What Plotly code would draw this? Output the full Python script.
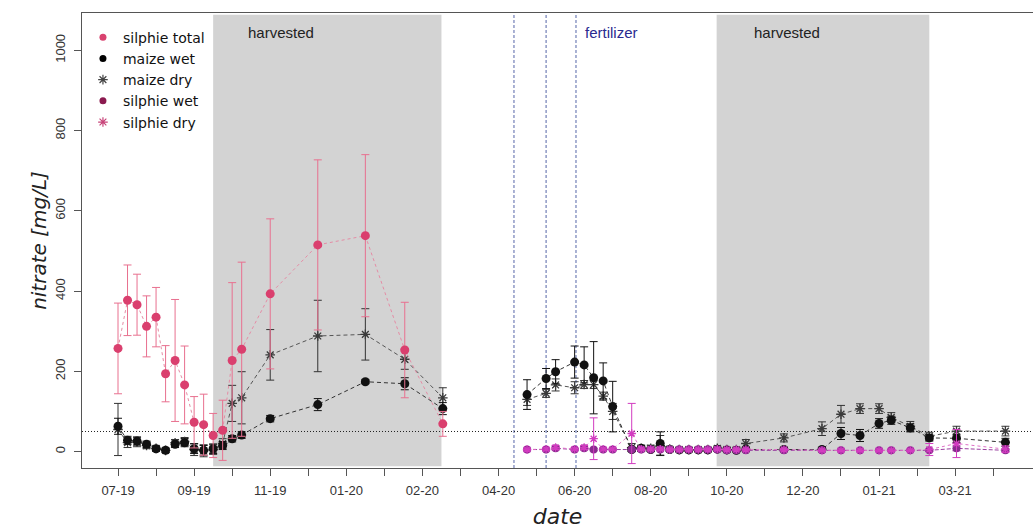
import plotly.graph_objects as go
import pandas as pd

# ---------------- data ----------------
dates_2019 = ["2019-07-19", "2019-07-26", "2019-08-02", "2019-08-09", "2019-08-16",
              "2019-08-23", "2019-08-30", "2019-09-06", "2019-09-13", "2019-09-20",
              "2019-09-27", "2019-10-04", "2019-10-11", "2019-10-18", "2019-11-08",
              "2019-12-13", "2020-01-17", "2020-02-15", "2020-03-14"]
silphie_total = [257, 377, 366, 312, 335, 194, 227, 166, 73, 67, 40, 53, 227, 255, 393, 515, 538, 253, 69]
silphie_total_err = [113, 88, 76, 76, 74, 70, 152, 97, 64, 76, 55, 75, 194, 217, 187, 212, 202, 119, 31]
maize_wet_2019 = [63, 28, 26, 18, 7, 3, 18, 22, 7, 3, 7, 15, 32, 41, 82, 117, 174, 169, 107]
maize_wet_2019_err = [20, 10, 10, 8, 6, 5, 8, 10, 12, 12, 12, 10, 8, 8, 8, 15, 5, 15, 15]
maize_dry_2019 = [55, 22, 24, 15, 8, 3, 22, 25, 5, 2, 5, 20, 120, 134, 241, 288, 292, 230, 134]
maize_dry_2019_err = [65, 12, 12, 8, 6, 5, 8, 10, 15, 15, 12, 12, 45, 65, 63, 89, 64, 25, 25]

dates_2020 = ["2020-05-15", "2020-05-29", "2020-06-05", "2020-06-19", "2020-06-26",
              "2020-07-03", "2020-07-10", "2020-07-17", "2020-07-31", "2020-08-07",
              "2020-08-14", "2020-08-21", "2020-08-28", "2020-09-04", "2020-09-11",
              "2020-09-18", "2020-09-25", "2020-10-02", "2020-10-09", "2020-10-16",
              "2020-10-23", "2020-11-20", "2020-12-18", "2021-01-01", "2021-01-15",
              "2021-01-29", "2021-02-07", "2021-02-21", "2021-03-07", "2021-03-27",
              "2021-05-02"]
maize_wet_2020 = [142, 182, 199, 223, 216, 184, 176, 112, 5, 8, 5, 20, 5, 4, 4, 4, 4, 6, 4, 3,
                  5, 5, 5, 45, 40, 70, 78, 59, 34, 33, 23]
maize_wet_2020_err = [37, 25, 30, 40, 45, 90, 45, 63, 5, 5, 5, 29, 5, 4, 4, 4, 4, 4, 4, 3,
                      4, 5, 5, 15, 15, 12, 10, 10, 8, 10, 10]
maize_dry_2020 = [130, 145, 166, 159, 167, 167, 138, 100, 10, 8, 8, 15, 6, 5, 5, 5, 5, 8, 5, 5,
                  20, 34, 57, 93, 107, 107, 85, 63, 38, 51, 51]
maize_dry_2020_err = [15, 10, 15, 15, 10, 10, 10, 20, 10, 8, 8, 25, 5, 5, 5, 5, 5, 5, 5, 5,
                      10, 10, 17, 22, 12, 12, 12, 12, 10, 12, 12]
silphie_wet_2020 = [5, 5, 8, 5, 8, 5, 5, 5, 5, 5, 5, 5, 5, 5, 5, 5, 5, 5, 3, 3,
                    3, 3, 3, 3, 3, 3, 3, 3, 3, 8, 3]
silphie_wet_2020_err = [3, 3, 4, 3, 4, 3, 3, 3, 3, 3, 3, 3, 3, 3, 3, 3, 3, 3, 2, 2,
                        2, 2, 2, 2, 2, 2, 2, 2, 3, 6, 3]
silphie_dry_2020 = [5, 6, 10, 6, 10, 32, 6, 6, 45, 6, 6, 6, 5, 5, 5, 5, 5, 6, 5, 5,
                    5, 5, 3, 3, 3, 3, 3, 3, 5, 20, 6]
silphie_dry_2020_err = [3, 3, 5, 3, 5, 52, 3, 3, 75, 3, 3, 3, 3, 3, 3, 3, 3, 3, 3, 3,
                        3, 3, 3, 3, 3, 3, 3, 3, 15, 35, 8]

harvest_start = ["2019-09-27", "2020-10-01 12:00"]
harvest_end = ["2020-03-13", "2021-03-07"]
harvest_label_x = ["2019-11-16", "2020-11-22"]
fertilizer_dates = ["2020-05-05 09:00", "2020-05-29", "2020-06-20"]
fertilizer_label_x = "2020-06-25"
limit_value = 50

tick_start = "2019-07-19"
tick_labels = ["07-19", "", "09-19", "", "11-19", "", "01-20", "", "02-20", "", "04-20", "",
               "06-20", "", "08-20", "", "10-20", "", "12-20", "", "01-21", "", "03-21", ""]
y_ticks = [0, 200, 400, 600, 800, 1000]

legend_names = ["silphie total", "maize wet", "maize dry", "silphie wet", "silphie dry"]

# ---------------- styles ----------------
FONT = "Liberation Sans, Arial, sans-serif"
FONT_WIDE = "DejaVu Sans, Verdana, sans-serif"
C_ST = "#DA3F6E"
C_ST_ERR = "#E8708F"
C_MW = "#111111"
C_MD = "#3a3a3a"
C_SW = "#8A2B8F"
C_SD = "#D23CC0"

tick_vals = pd.date_range(tick_start, periods=len(tick_labels), freq="28D")

fig = go.Figure()

# harvest shading
for s, e in zip(harvest_start, harvest_end):
    fig.add_shape(type="rect", xref="x", yref="paper", x0=s, x1=e, y0=0.004, y1=0.996,
                  fillcolor="#D3D3D3", line_width=0, layer="below")

# fertilizer lines
for d in fertilizer_dates:
    fig.add_shape(type="line", xref="x", yref="paper", x0=d, x1=d, y0=0, y1=1,
                  line=dict(color="#5565a8", width=1, dash="3px,2px"), layer="below")

# limit line
fig.add_shape(type="line", xref="paper", yref="y", x0=0, x1=1, y0=limit_value, y1=limit_value,
              line=dict(color="#222222", width=1, dash="1px,2px"), layer="below")


def add_series(x, y, err, color, err_color, symbol, size, dash, line_color, lw=1.0):
    marker = dict(color=color, size=size, symbol=symbol)
    if symbol.endswith("open"):
        marker["line"] = dict(color=color, width=1.3)
    fig.add_trace(go.Scatter(
        x=x, y=y, mode="lines+markers", showlegend=False,
        line=dict(color=line_color, width=lw, dash=dash),
        marker=marker,
        error_y=dict(type="data", array=err, color=err_color, thickness=1, width=4),
    ))


add_series(dates_2019, maize_dry_2019, maize_dry_2019_err, C_MD, "#333333", "asterisk-open", 8, "4px,3px", "#555555")
add_series(dates_2019, maize_wet_2019, maize_wet_2019_err, C_MW, "#111111", "circle", 9, "4px,3px", "#333333")
add_series(dates_2019, silphie_total, silphie_total_err, C_ST, C_ST_ERR, "circle", 9, "3px,3px", "#E58CA5")

add_series(dates_2020, maize_dry_2020, maize_dry_2020_err, C_MD, "#333333", "asterisk-open", 8, "4px,3px", "#555555")
add_series(dates_2020, maize_wet_2020, maize_wet_2020_err, C_MW, "#111111", "circle", 9, "4px,3px", "#333333")
add_series(dates_2020, silphie_wet_2020, silphie_wet_2020_err, C_SW, C_SW, "circle", 8, "4px,2px", "#9A3FA0")
add_series(dates_2020, silphie_dry_2020, silphie_dry_2020_err, C_SD, C_SD, "asterisk-open", 7, "3px,3px", "#E070C8")

# legend entries (markers only)
legend_colors = ["#D9426F", "#000000", "#444444", "#8B1A4F", "#C8457A"]
legend_symbols = ["circle", "circle", "asterisk-open", "circle", "asterisk-open"]
for name, col, sym in zip(legend_names, legend_colors, legend_symbols):
    mk = dict(color=col, size=7, symbol=sym)
    if sym.endswith("open"):
        mk["line"] = dict(color=col, width=1.2)
        mk["size"] = 8
    fig.add_trace(go.Scatter(x=[None], y=[None], mode="markers", name=name, marker=mk))

# text labels
for xl in harvest_label_x:
    fig.add_annotation(x=xl, y=0.958, xref="x", yref="paper", text="harvested", showarrow=False,
                       yanchor="middle", font=dict(family=FONT, size=15, color="#222222"))
fig.add_annotation(x=fertilizer_label_x, y=0.958, xref="x", yref="paper", text="fertilizer",
                   showarrow=False, xanchor="left", yanchor="middle",
                   font=dict(family=FONT, size=15, color="#2a2a90"))

fig.update_layout(
    width=1033, height=529,
    margin=dict(l=82, r=0, t=13, b=61),
    paper_bgcolor="white", plot_bgcolor="white",
    font=dict(family=FONT, color="#333333"),
    legend=dict(x=0.001, y=0.981, xanchor="left", yanchor="top", bgcolor="rgba(0,0,0,0)",
                font=dict(family=FONT_WIDE, size=14, color="#111111"), tracegroupgap=0,
                itemsizing="trace"),
    xaxis=dict(
        type="date", range=["2019-06-22 12:00", "2021-05-22 07:00"],
        tickmode="array", tickvals=tick_vals, ticktext=tick_labels,
        ticks="outside", ticklen=7, tickcolor="#555555", ticklabelstandoff=3,
        showline=True, linecolor="#555555", linewidth=1, mirror=True,
        showgrid=False, zeroline=False,
        tickfont=dict(family=FONT, size=13, color="#333333"),
        title=dict(text="date", font=dict(family=FONT_WIDE, size=22, style="italic", color="#222222"),
                   standoff=15),
    ),
    yaxis=dict(
        range=[-41, 1093], tickmode="array", tickvals=y_ticks,
        ticks="outside", ticklen=7, tickcolor="#555555", tickangle=-90, ticklabelstandoff=4,
        showline=True, linecolor="#555555", linewidth=1, mirror=False,
        showgrid=False, zeroline=False,
        tickfont=dict(family=FONT, size=13, color="#333333"),
        title=dict(text="nitrate [mg/L]", font=dict(family=FONT_WIDE, size=20, style="italic", color="#222222"),
                   standoff=0),
    ),
)

fig.write_html("out.html")
